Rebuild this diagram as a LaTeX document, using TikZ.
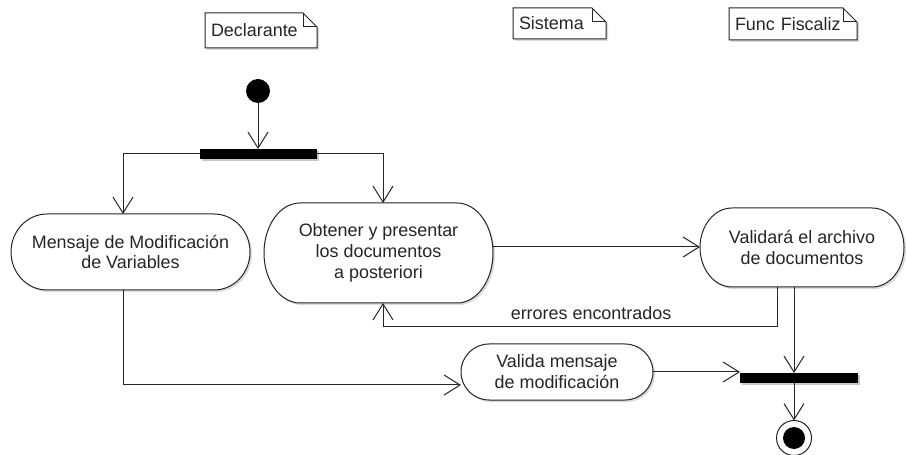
\documentclass[tikz,border=0pt]{standalone}
\usepackage{fontspec}
\setmainfont{Liberation Sans}
\usetikzlibrary{arrows.meta,calc,backgrounds}
\newcommand{\actoutline}[2]{%
  \coordinate (#1-A) at ([xshift=#2]#1.north west);
  \coordinate (#1-B) at ([xshift=-#2]#1.north east);
  \coordinate (#1-C) at ([xshift=-#2]#1.south east);
  \coordinate (#1-D) at ([xshift=#2]#1.south west);
}
\newcommand{\actdraw}[2]{%
  \draw[#2] (#1-A) -- (#1-B)
    .. controls ($(#1-B)!0.552!(#1.north east)$) and ($(#1.east)!0.552!(#1.north east)$) .. (#1.east)
    .. controls ($(#1.east)!0.552!(#1.south east)$) and ($(#1-C)!0.552!(#1.south east)$) .. (#1-C)
    -- (#1-D)
    .. controls ($(#1-D)!0.552!(#1.south west)$) and ($(#1.west)!0.552!(#1.south west)$) .. (#1.west)
    .. controls ($(#1.west)!0.552!(#1.north west)$) and ($(#1-A)!0.552!(#1.north west)$) .. (#1-A) -- cycle;
}
\newcommand{\notedraw}[2]{%
  \draw[#2] (#1.south west) -- (#1.north west) -- ([xshift=-14bp]#1.north east)
    -- ([yshift=-14bp]#1.north east) -- (#1.south east) -- cycle;
}
\newcommand{\notefold}[1]{%
  \draw[ln] ([xshift=-14bp]#1.north east) -- ([xshift=-14bp,yshift=-14bp]#1.north east)
    -- ([yshift=-14bp]#1.north east);
}
\tikzset{
  txt/.style={font=\fontsize{18}{21}\selectfont, text=black!85},
  ln/.style={draw=black!85, line width=1bp},
  act/.style={txt, align=center, inner sep=0pt, outer sep=0pt, draw=none},
  notebox/.style={txt, align=left, inner xsep=6bp, inner ysep=0pt, outer sep=0pt, draw=none},
  bar/.style={fill=black, draw=none, minimum height=10bp, inner sep=0pt, outer sep=0pt},
  arr/.style={ln, -{Straight Barb[length=16bp,width=20bp]}},
  shade/.style={fill=black!14, draw=none},
}
\begin{document}
\begin{tikzpicture}[x=1bp,y=-1bp]
\useasboundingbox (0,0) rectangle (907,455);

% notes
\node[notebox, text width=100bp, minimum height=35bp] (decl) at (261,30.5) {Declarante};
\node[notebox, text width=81bp, minimum height=31bp] (sist) at (559.5,23.5) {Sistema};
\node[notebox, text width=116bp, minimum height=32bp] (func) at (793,24) {Func Fiscaliz};

% nodes
\node[circle, fill=black, minimum size=24bp, inner sep=0pt, outer sep=0pt] (init) at (258,91) {};
\node[bar, minimum width=117bp] (fork) at (258.5,154) {};
\node[act, minimum width=239bp, minimum height=76bp] (mensaje) at (130.5,252) {Mensaje de Modificación\\de Variables};
\node[act, minimum width=229bp, minimum height=100bp] (obtener) at (378.5,253) {Obtener y presentar\\los documentos\\a posteriori};
\node[act, minimum width=204bp, minimum height=79bp] (valid) at (802,247.5) {Validará el archivo\\de documentos};
\node[act, minimum width=192bp, minimum height=56bp] (valmsg) at (557,372) {Valida mensaje\\de modificación};
\node[bar, minimum width=118bp] (join) at (799,378) {};
\node[circle, draw=black!85, line width=1bp, fill=white, minimum size=35bp, inner sep=0pt, outer sep=0pt] (final) at (794,438) {};
\node[circle, fill=black, minimum size=22bp, inner sep=0pt] (finaldot) at (final.center) {};

\actoutline{mensaje}{36bp}
\actoutline{obtener}{36bp}
\actoutline{valid}{32bp}
\actoutline{valmsg}{28bp}

\begin{scope}[on background layer]
  \fill[white] (0,0) rectangle (907,455);
  \begin{scope}[transform canvas={shift={(2bp,-2bp)}}]
    \actdraw{mensaje}{shade}
    \actdraw{obtener}{shade}
    \actdraw{valid}{shade}
    \actdraw{valmsg}{shade}
    \notedraw{decl}{shade}
    \notedraw{sist}{shade}
    \notedraw{func}{shade}
    \fill[black!22] (fork.south west) rectangle (fork.north east);
    \fill[black!22] (join.south west) rectangle (join.north east);
  \end{scope}
  \actdraw{mensaje}{ln, fill=white}
  \actdraw{obtener}{ln, fill=white}
  \actdraw{valid}{ln, fill=white}
  \actdraw{valmsg}{ln, fill=white}
  \notedraw{decl}{ln, fill=white}
  \notedraw{sist}{ln, fill=white}
  \notedraw{func}{ln, fill=white}
  \notefold{decl}
  \notefold{sist}
  \notefold{func}
\end{scope}

% connectors
\draw[arr] (init.south) -- (init.south |- fork.north);
\draw[arr] (fork.west) -| ([xshift=-7.5bp]mensaje.north);
\draw[arr] (fork.east) -| ([xshift=4.5bp]obtener.north);
\draw[arr] ([yshift=6bp]obtener.east) -- ([yshift=6bp]obtener.east -| valid.west);
\draw[arr] ([xshift=-25bp]valid.south) -- ++(0,40)
  -| node[txt, pos=0.236, anchor=base, yshift=7bp, inner sep=0pt] (errlbl) {errores encontrados}
  ([xshift=4.5bp]obtener.south);
\draw[arr] ([xshift=-8bp]valid.south) -- ([xshift=-8bp]valid.south |- join.north);
\draw[arr] ([xshift=-7.5bp]mensaje.south) |- ([yshift=-13bp]valmsg.west);
\draw[arr] (valmsg.east) -- (valmsg.east -| join.west);
\draw[arr] (final.north |- join.south) -- (final.north);
\end{tikzpicture}
\end{document}
